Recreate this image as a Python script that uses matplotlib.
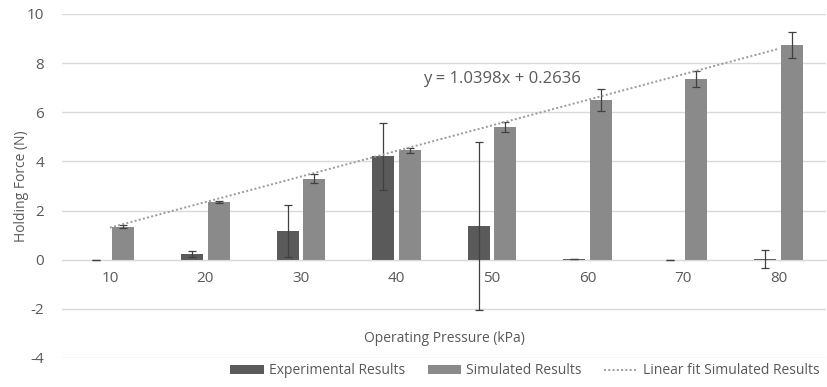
import numpy as np
import matplotlib.pyplot as plt

plt.rcParams['font.family'] = ['Open Sans', 'DejaVu Sans']
plt.rcParams['axes.unicode_minus'] = False

pressure = ['10', '20', '30', '40', '50', '60', '70', '80']
experimental = [-0.02, 0.22, 1.17, 4.20, 1.37, 0.02, -0.03, 0.02]
experimental_err = [0.0, 0.12, 1.07, 1.37, 3.43, 0.0, 0.0, 0.37]
simulated = [1.35, 2.35, 3.30, 4.45, 5.40, 6.50, 7.35, 8.74]
simulated_err = [0.08, 0.05, 0.20, 0.10, 0.20, 0.45, 0.33, 0.52]
fit_slope = 1.0398
fit_intercept = 0.2636

dark = '#5a5a5a'
light = '#8a8a8a'
txt = '#595959'

fig = plt.figure(figsize=(8.28, 3.87), dpi=100)
ax = fig.add_axes([0.075, 0.075, 0.923, 0.889])

x = np.arange(len(pressure))
w = 0.23
b1 = ax.bar(x - 0.14, experimental, w, color=dark, label='Experimental Results', zorder=2)
b2 = ax.bar(x + 0.14, simulated, w, color=light, label='Simulated Results', zorder=2)
ax.errorbar(x - 0.14, experimental, yerr=experimental_err, fmt='none',
            ecolor='#404040', elinewidth=0.9, capsize=3, capthick=0.9, zorder=3)
ax.errorbar(x + 0.14, simulated, yerr=simulated_err, fmt='none',
            ecolor='#404040', elinewidth=0.9, capsize=3, capthick=0.9, zorder=3)

# trendline over category index 1..n, as Excel does
idx = np.arange(1, len(pressure) + 1)
l1, = ax.plot(x, fit_slope * idx + fit_intercept, linestyle=(0, (1, 1.2)), color='#9a9a9a',
              linewidth=1.4, label='Linear fit Simulated Results', zorder=4)
ax.text(4.10, 7.36, 'y = 1.0398x + 0.2636', ha='center', va='center',
        fontsize=12, color=txt)

ax.set_xlim(-0.5, len(pressure) - 0.5)
ax.set_ylim(-4, 10)
ax.set_yticks(range(-4, 11, 2))
ax.set_xticks(x)
ax.set_xticklabels(pressure)
ax.grid(axis='y', color='#d9d9d9', linewidth=1, zorder=0)
ax.set_axisbelow(True)
for s in ['top', 'right', 'left']:
    ax.spines[s].set_visible(False)
ax.spines['bottom'].set_position(('data', 0))
ax.spines['bottom'].set_color('#d9d9d9')
ax.tick_params(axis='both', length=0, labelsize=11, colors=txt)
ax.tick_params(axis='x', pad=8)
ax.tick_params(axis='y', pad=13)
ax.set_ylabel('Holding Force (N)', fontsize=10, color=txt, labelpad=-2)
ax.text(3.5, -3.2, 'Operating Pressure (kPa)', ha='center', va='center',
        fontsize=10, color=txt)

fig.legend([b1, b2, l1], ['Experimental Results', 'Simulated Results', 'Linear fit Simulated Results'],
           loc='lower right', bbox_to_anchor=(1.005, -0.01), ncol=3, frameon=False,
           fontsize=10, labelcolor=txt, handlelength=2.4, handleheight=0.6,
           columnspacing=1.6, handletextpad=0.4)

fig.savefig('out.png', dpi=100)
